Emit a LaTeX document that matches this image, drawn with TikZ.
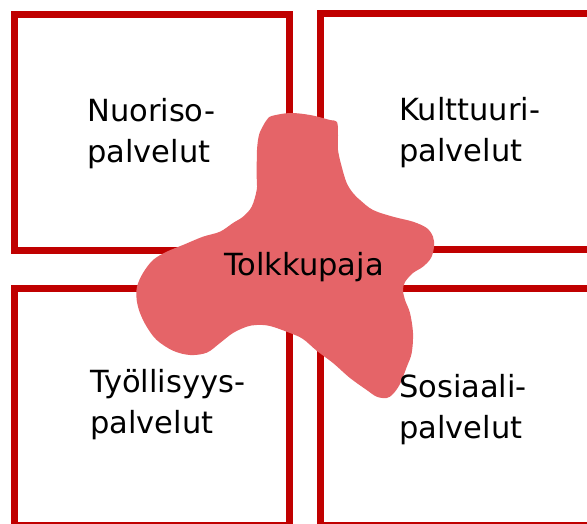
\documentclass[tikz,border=0pt]{standalone}
\usepackage{fontspec}
\setmainfont{DejaVu Sans}
\usepackage{tikz}
\usepackage{xcolor}
\definecolor{boxred}{RGB}{192,0,0}
\definecolor{blobred}{RGB}{229,100,104}
\tikzset{service/.style={draw=boxred,line width=7pt},
 servicetext/.style={anchor=base west,align=left,inner sep=0pt,
  font=\fontsize{30.5}{41}\selectfont},
 }

\begin{document}
\begin{tikzpicture}[x=1pt,y=-1pt]
        \useasboundingbox (0,0) rectangle (587,524);
        \clip (0,0) rectangle (587,524);

        \draw[service] (14.7,14.7) rectangle (289.5,250.5);
        \draw[service] (320.8,13.3) rectangle (600,250);
        \draw[service] (14.7,288.3) rectangle (289,525.2);
        \draw[service] (320.8,288.2) rectangle (600,525.2);

        \fill[blobred] plot[smooth cycle,tension=0.55] coordinates {
          (266.7,120) (271.7,116) (290,113) (310,115) (330,120) (337,122)
          (338,135) (338,150) (341.7,166.7) (346.7,183) (353,193) (360,200)
          (373,210) (393,216.7) (413,221.7) (426.7,228) (433,236.7) (434,246.7)
          (431,258) (423,266.7) (413,273) (405,282) (403,290) (405,300)
          (410,313) (413,333) (411.7,353) (406.7,367) (400,384) (393,394)
          (386.7,398) (376.7,396.7) (366.7,390) (350,378) (333,363) (317,351)
          (303,339) (290,333) (270,326) (256.7,325) (246.7,326.7) (233,333)
          (220,343) (206.7,352.7) (190,355) (173,350.7) (156.7,340) (146.7,326.7)
          (140,313) (136.7,300) (137,286.7) (143,273) (153,260) (166.7,251.7)
          (183,245) (203,236.7) (220,231.7) (233,223) (243,216.7) (251.7,206.7)
          (256.7,190) (256.7,176.7) (257,150) (259,135) (263,126)};

        % base of the last line
        \node[servicetext] (nuoriso) at (87,163) {Nuoriso-\\palvelut};
        \node[servicetext] (kulttuuri) at (399,161.7) {Kulttuuri-\\palvelut};
        \node[servicetext] (tyollisyys) at (90,433.3) {Työllisyys-\\palvelut};
        \node[servicetext] (sosiaali) at (399,438) {Sosiaali-\\palvelut};
        \node[servicetext] (tolkkupaja) at (224,276) {Tolkkupaja};
\end{tikzpicture}
\end{document}
